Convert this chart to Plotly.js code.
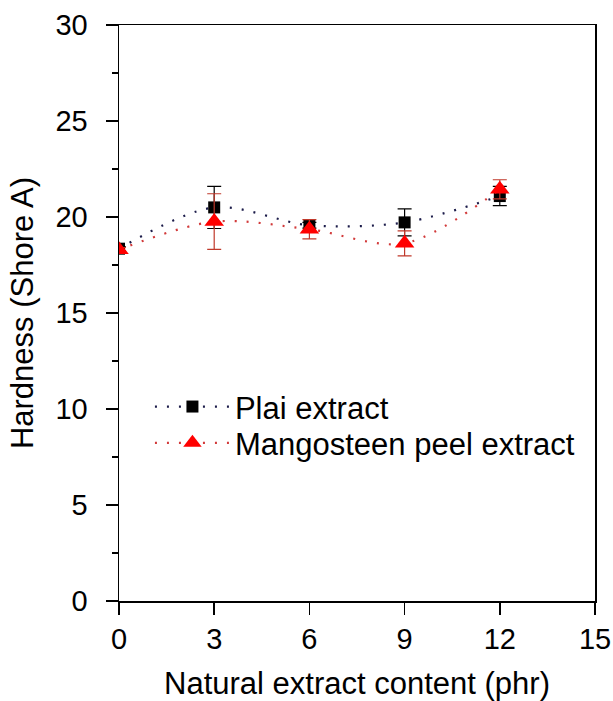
<!DOCTYPE html>
<html>
<head>
<meta charset="utf-8">
<script src="https://cdn.plot.ly/plotly-3.0.1.min.js"></script>
<style>html,body{margin:0;padding:0;background:#fff;}#chart{width:613px;height:701px;}</style>
</head>
<body>
<div id="chart"></div>
<script>
const content = [0, 3, 6, 9, 12];
const plaiHardness = [18.35, 20.5, 19.57, 19.72, 21.09];
const plaiError = [0.1, 1.1, 0.15, 0.7, 0.5];
const mangoHardness = [18.3, 19.76, 19.36, 18.63, 21.44];
const mangoError = [0.1, 1.45, 0.5, 0.65, 0.5];
const xTicks = [0, 3, 6, 9, 12, 15];
const yTicks = [0, 5, 10, 15, 20, 25, 30];

const traces = [
  {
    x: content, y: plaiHardness, name: 'Plai extract', legend: 'legend',
    type: 'scatter', mode: 'lines+markers',
    line: {shape: 'spline', smoothing: 0.9, dash: '2px,10px', color: '#1c1c4a', width: 2.2},
    marker: {symbol: 'square', size: 12, color: '#000000'},
    error_y: {type: 'data', array: plaiError, visible: true, color: '#000000', thickness: 1.2, width: 7}
  },
  {
    x: content, y: mangoHardness, name: 'Mangosteen peel extract', legend: 'legend2',
    type: 'scatter', mode: 'lines+markers',
    line: {shape: 'spline', smoothing: 0.9, dash: '2px,10px', color: '#d23a3a', width: 2.2},
    marker: {symbol: 'triangle-up', size: 17, color: '#ff0000'},
    error_y: {type: 'data', array: mangoError, visible: true, color: '#c0392b', thickness: 1.2, width: 7}
  }
];

const legendBase = {xanchor: 'left', yanchor: 'middle', bgcolor: 'rgba(0,0,0,0)', font: {size: 31}, itemwidth: 75};

const layout = {
  width: 613, height: 701,
  margin: {l: 119, r: 18, t: 25, b: 100},
  paper_bgcolor: '#ffffff', plot_bgcolor: '#ffffff',
  font: {family: 'Arial, "Liberation Sans", sans-serif', color: '#000000', size: 29},
  showlegend: true,
  legend: Object.assign({}, legendBase, {x: 0.065, y: 0.337}),
  legend2: Object.assign({}, legendBase, {x: 0.065, y: 0.274}),
  xaxis: {
    range: [0, 15], tickvals: xTicks, ticktext: xTicks.map(String),
    showgrid: false, zeroline: false, showline: true, linecolor: '#000', linewidth: 1.5,
    mirror: true, ticks: 'outside', ticklen: 12, tickwidth: 1.5, tickcolor: '#000',
    tickfont: {size: 29}, ticklabelstandoff: 0,
    title: {text: 'Natural extract content (phr)', font: {size: 31}, standoff: 18}
  },
  yaxis: {
    range: [0, 30], tickvals: yTicks, ticktext: yTicks.map(String),
    showgrid: false, zeroline: false, showline: true, linecolor: '#000', linewidth: 1.5,
    mirror: true, ticks: 'outside', ticklen: 12, tickwidth: 1.5, tickcolor: '#000',
    tickfont: {size: 29}, ticklabelstandoff: 12,
    minor: {dtick: 2.5, ticks: 'outside', ticklen: 6, tickwidth: 1.2, tickcolor: '#000', showgrid: false},
    title: {text: 'Hardness (Shore A)', font: {size: 31}, standoff: 12}
  }
};

Plotly.newPlot('chart', traces, layout, {displayModeBar: false, staticPlot: true});
</script>
</body>
</html>
